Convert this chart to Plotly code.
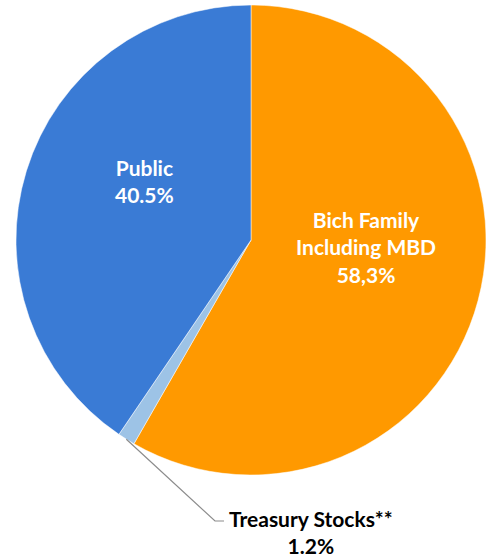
import math
import plotly.graph_objects as go

# Shareholder structure
labels = ["Bich Family<br>Including MBD", "Treasury Stocks**", "Public"]
values = [58.3, 1.2, 40.5]
value_text = ["58,3%", "1.2%", "40.5%"]
colors = ["#FF9900", "#9DC3E6", "#3A7BD5"]

W, H = 493, 558
cx, cy, r = 251, 240, 235  # pie centre / radius in pixels

fig = go.Figure(go.Pie(
    labels=labels,
    values=values,
    sort=False,
    direction="clockwise",
    rotation=0,
    marker=dict(colors=colors, line=dict(color="#FFFFFF", width=0.5)),
    textinfo="none",
    hoverinfo="label+percent",
    domain=dict(x=[(cx - r) / W, (cx + r) / W], y=[(H - cy - r) / H, (H - cy + r) / H]),
    showlegend=False,
))

font = "Lato, 'Open Sans', sans-serif"
FS = 21

def px(x, y):
    return x / W, 1 - y / H

def label(x, y, text, color):
    ax, ay = px(x, y)
    fig.add_annotation(x=ax, y=ay, xref="paper", yref="paper", showarrow=False,
                       xanchor="center", yanchor="middle", align="center",
                       text=f"<b>{text}</b>",
                       font=dict(family=font, size=FS, color=color))

# Inside labels
label(144, 181, f"{labels[2]}<br>{value_text[2]}", "white")
label(366, 247, f"{labels[0]}<br>{value_text[0]}", "white")

# Outside label for the small slice with a leader line
total = sum(values)
mid = (values[0] + values[1] / 2) / total * 2 * math.pi
sx = cx + r * math.sin(mid)
sy = cy - r * math.cos(mid)
ex, ey = 215, 521
fig.add_shape(type="path", xref="paper", yref="paper",
              path="M {} {} L {} {} L {} {}".format(*px(sx, sy), *px(ex, ey), *px(ex + 9, ey)),
              line=dict(color="#8C8C8C", width=1.2))
label(311, 532, f"{labels[1]}<br>{value_text[1]}", "black")

fig.update_layout(width=W, height=H, margin=dict(l=0, r=0, t=0, b=0),
                  paper_bgcolor="white", plot_bgcolor="white")
fig.write_html("out.html")
